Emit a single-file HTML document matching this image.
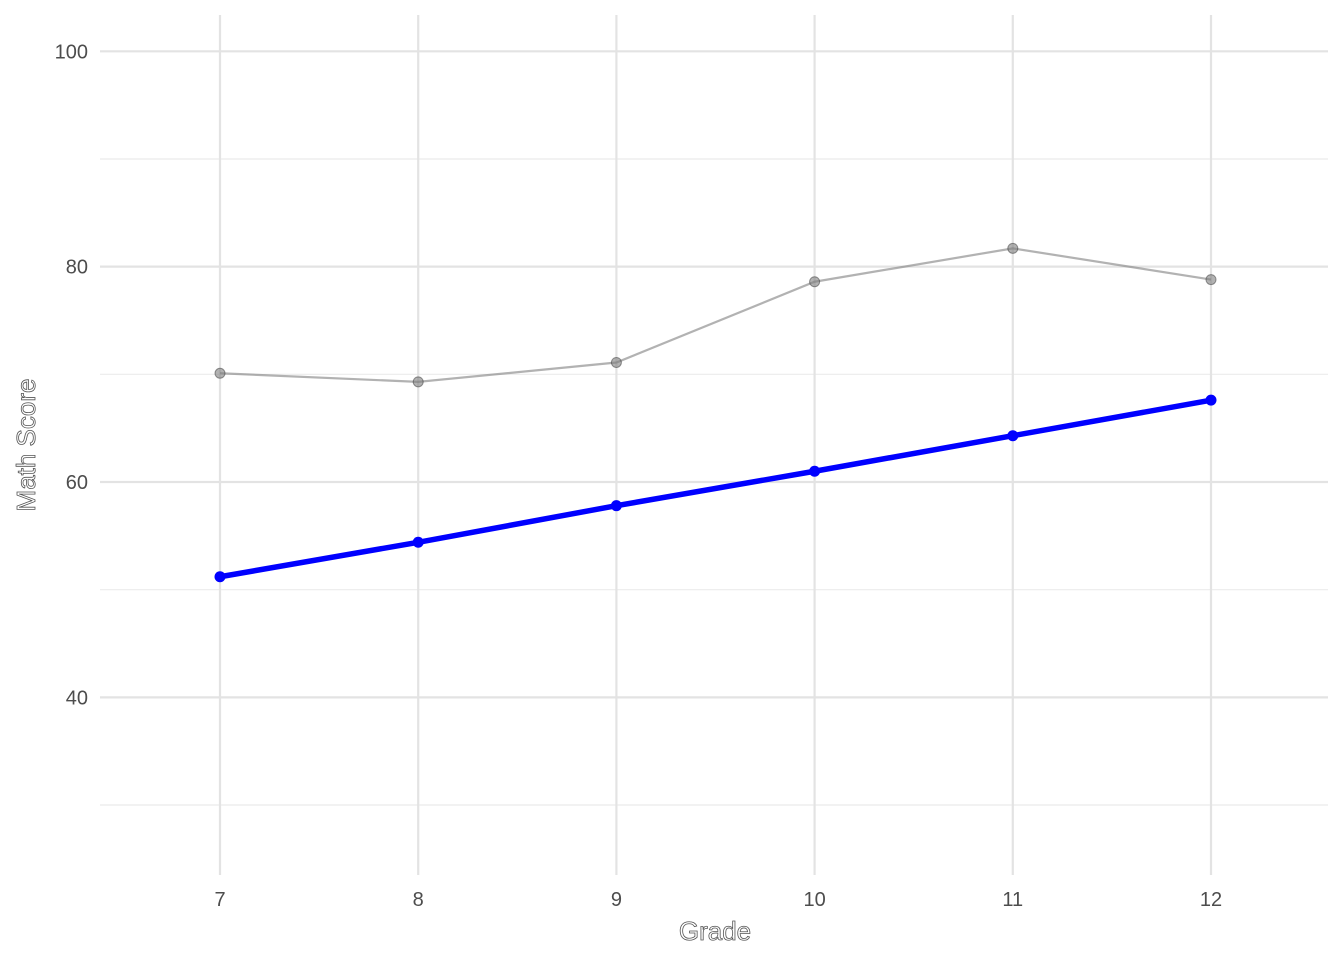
<!DOCTYPE html>
<html><head><meta charset="utf-8"><style>body{margin:0;background:#fff}svg{display:block;font-family:"Liberation Sans",sans-serif}</style></head>
<body>
<svg id="chart" width="1344" height="960" xmlns="http://www.w3.org/2000/svg">
<g id="grid"></g>
<g id="ticks"></g>
<g id="series"></g>
<text x="715" y="940" text-anchor="middle" font-size="26" fill="#fff" stroke="#555" stroke-width="0.8">Grade</text>
<text transform="translate(35,445) rotate(-90)" text-anchor="middle" font-size="26" fill="#fff" stroke="#555" stroke-width="0.8">Math Score</text>
</svg>
<script>
const grades=[7,8,9,10,11,12];
const avgScores=[70.1,69.3,71.1,78.6,81.7,78.8];
const studentScores=[51.2,54.4,57.8,61.0,64.3,67.6];
const yTicks=[40,60,80,100];
const yMinor=[30,50,70,90];
const NS="http://www.w3.org/2000/svg";
const xs=g=>220+(g-7)*198.2;
const ys=v=>482-(v-60)*10.767;
function mk(tag,attrs,parent){const e=document.createElementNS(NS,tag);for(const k in attrs)e.setAttribute(k,attrs[k]);parent.appendChild(e);return e;}
const grid=document.getElementById('grid'),ticks=document.getElementById('ticks'),series=document.getElementById('series');
yMinor.forEach(v=>{const l=mk('line',{x1:100,x2:1328,y1:ys(v),y2:ys(v),stroke:'#ebebeb','stroke-width':1.2},grid);

});
yTicks.forEach(v=>{const l=mk('line',{x1:100,x2:1328,y1:ys(v),y2:ys(v),stroke:'#e3e3e3','stroke-width':2.2},grid);


const t=mk('text',{x:88,y:ys(v)+7,'text-anchor':'end','font-size':20,fill:'#4d4d4d'},ticks);t.textContent=v;

});
grades.forEach(g=>{const l=mk('line',{x1:xs(g),x2:xs(g),y1:15,y2:875,stroke:'#e3e3e3','stroke-width':2.2},grid);


const t=mk('text',{x:xs(g),y:906,'text-anchor':'middle','font-size':20,fill:'#4d4d4d'},ticks);t.textContent=g;

});
function draw(vals,color,w,r,op,name,outline){
const p=mk('polyline',{points:grades.map((g,i)=>xs(g)+','+ys(vals[i])).join(' '),fill:'none',stroke:color,'stroke-width':w,'stroke-opacity':op},series);


grades.forEach((g,i)=>{const c=mk('circle',{cx:xs(g),cy:ys(vals[i]),r:r,fill:color,'fill-opacity':op},series);
if(outline){c.setAttribute('stroke',outline);c.setAttribute('stroke-opacity','0.5');c.setAttribute('stroke-width','1');}

});}
draw(avgScores,'#7f7f7f',2.2,5,0.6,'average','#333');
draw(studentScores,'#0000ff',5.5,5.5,1,'student',null);
</script>
</body></html>
